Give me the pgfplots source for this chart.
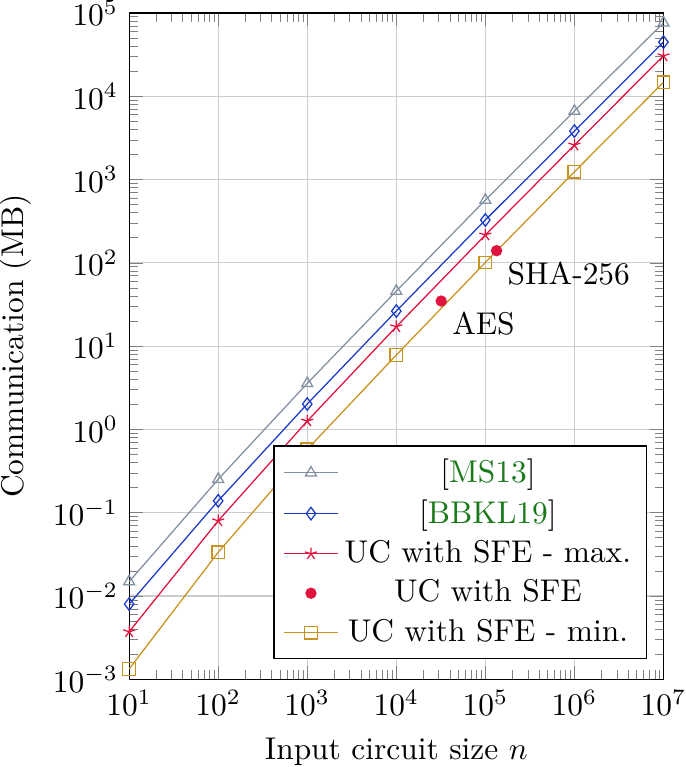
\documentclass[border=0pt]{standalone}
\usepackage{pgfplots}
\pgfplotsset{compat=1.18}
\definecolor{cgray}{HTML}{8190A2}
\definecolor{cblue}{HTML}{1A3BC8}
\definecolor{cred}{HTML}{E0123E}
\definecolor{cgold}{HTML}{C8921E}
\definecolor{citegreen}{HTML}{1A7A1A}
\begin{document}
\begin{tikzpicture}
\begin{axis}[
  scale only axis,
  width=170pt, height=212pt,
  xmode=log, ymode=log,
  xmin=10, xmax=1e7,
  ymin=1e-3, ymax=1e5,
  grid=major,
  major grid style={gray!40, line width=0.4pt},
  xlabel={Input circuit size $n$},
  ylabel={Communication (MB)},
  legend pos=south east,
  legend cell align=center,
  legend style={fill=white},
]
\addplot[cgray, mark=triangle, mark options={solid}] coordinates {
(10,0.0149) (100,0.252) (1000,3.57) (10000,45.8) (100000,567) (1000000,6640) (10000000,76200)};
\addlegendentry{[\textcolor{citegreen}{MS13}]}
\addplot[cblue, mark=diamond] coordinates {
(10,0.0080) (100,0.139) (1000,2.02) (10000,26.4) (100000,327) (1000000,3820) (10000000,44700)};
\addlegendentry{[\textcolor{citegreen}{BBKL19}]}
\addplot[cred, mark=star] coordinates {
(10,0.00372) (100,0.080) (1000,1.26) (10000,17.1) (100000,216) (1000000,2595) (10000000,30600)};
\addlegendentry{UC with SFE - max.}
\addplot[cred, only marks, mark=*, mark size=1.6pt] coordinates {
(31900,34.8) (133700,140)};
\addlegendentry{UC with SFE}
\addplot[cgold, mark=square] coordinates {
(10,0.00133) (100,0.0335) (1000,0.577) (10000,7.82) (100000,101) (1000000,1241) (10000000,14700)};
\addlegendentry{UC with SFE - min.}
\node[anchor=north west] at (axis cs:31900,34.8) {AES};
\node[anchor=north west] at (axis cs:133700,140) {SHA-256};
\coordinate (bbsw) at (rel axis cs:-0.2417,-0.1316);
\coordinate (bbne) at (rel axis cs:1.0418,1.0195);
\end{axis}
\pgfresetboundingbox
\useasboundingbox (bbsw) rectangle (bbne);
\end{tikzpicture}
\end{document}
